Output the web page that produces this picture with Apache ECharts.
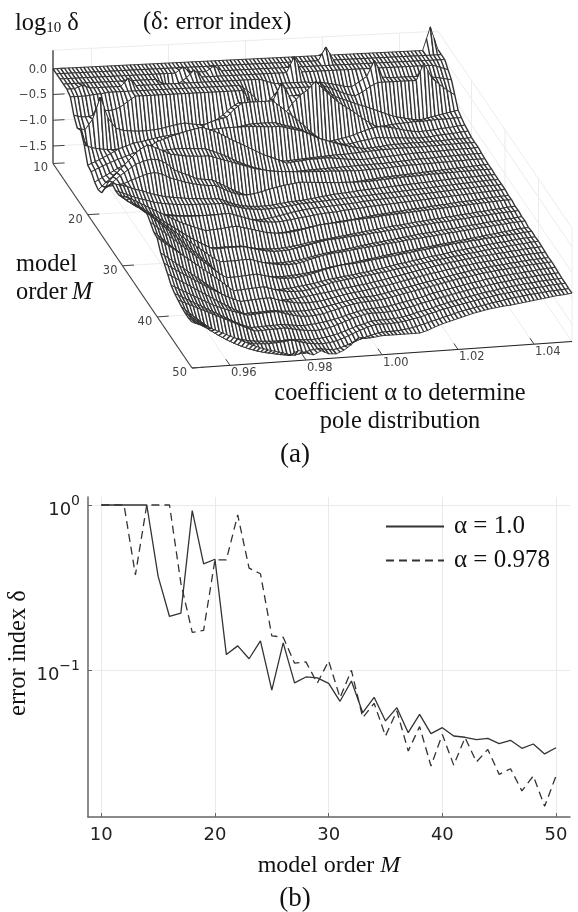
<!DOCTYPE html>
<html><head><meta charset="utf-8">
<script src="https://cdn.jsdelivr.net/npm/echarts@6/dist/echarts.min.js"></script>
<style>html,body{margin:0;padding:0;background:#fff}#c{width:578px;height:912px}</style></head>
<body><div id="c"></div>
<script>
// ---- panel (b): error index by model order
const orders=[10,11,12,13,14,15,16,17,18,19,20,21,22,23,24,25,26,27,28,29,30,31,32,33,34,35,36,37,38,39,40,41,42,43,44,45,46,47,48,49,50];
const deltaAlpha1=[1,1,1,1,1,0.369,0.211,0.221,0.924,0.44,0.469,0.124,0.14,0.117,0.15,0.0754,0.146,0.0836,0.0907,0.0895,0.083,0.0646,0.0858,0.0551,0.0683,0.0491,0.0591,0.0417,0.0538,0.0411,0.0447,0.0398,0.0391,0.0378,0.0385,0.0358,0.0375,0.0335,0.0356,0.031,0.0338];
const deltaAlpha978=[1,1,1,0.377,1,1,1,0.336,0.169,0.174,0.465,0.465,0.87,0.414,0.383,0.161,0.158,0.11,0.112,0.0832,0.1135,0.068,0.0995,0.0514,0.0628,0.0398,0.0565,0.0323,0.0454,0.0262,0.0407,0.0265,0.0389,0.0277,0.033,0.0233,0.0252,0.0185,0.0228,0.0149,0.0228];
const orderTicksB=[10,20,30,40,50];
const deltaTicks=[0.1,1];
// ---- panel (a): log10 delta x100, one list per model order, alpha columns 0.95..1.05 step 0.002
const z10=[0,0,0,0,0,0,0,0,0,0, 0,0,0,0,0,0,0,0,0,0, 0,0,0,0,0,0,0,0,0,0, 0,0,0,0,0,0,0,0,0,0, 0,0,0,0,0,0,0,0,0,45, 0];
const z11=[0,0,0,0,0,0,0,0,0,0, 0,0,0,0,0,0,0,0,0,0, 0,0,0,0,0,0,0,0,0,0, 0,0,0,0,0,26,0,0,0,0, 0,0,0,0,0,0,0,0,0,0, 0];
const z12=[0,0,0,0,0,0,0,0,0,0, 0,0,0,0,0,0,11,0,0,0, 10,0,0,0,0,0,0,0,0,0, 0,0,0,0,0,0,0,0,0,0, 0,0,0,0,0,0,0,0,0,0, 0];
const z13=[0,0,0,0,0,0,0,0,0,0, 0,0,0,-10,-42,-10,0,14,0,0, 0,0,0,0,0,0,0,0,0,0, 30,0,0,0,0,0,0,0,0,0, 0,0,0,0,0,0,0,0,0,-5, -10];
const z14=[0,0,6,0,0,0,0,0,15,0, 0,0,0,0,0,0,0,0,0,0, 0,0,0,0,0,0,-5,-10,-10,-10, -10,-10,-12,-12,-15,-18,-22,-24,-15,-5, 25,-8,-10,-10,-10,-10,-10,-12,-14,-17, -20];
const z15=[-5,-5,-5,-3,-2,0,0,0,0,0, 0,0,0,0,0,0,0,0,0,0, 0,0,0,-10,-25,-43,-30,-15,-10,-10, -10,-10,-10,-10,-15,-22,-28,-32,-25,-15, -8,-8,-8,-8,-8,-8,25,-5,-18,-30, -40];
const z16=[-31,-35,-35,-30,-25,-25,-20,-10,0,0, 0,0,0,0,0,0,0,0,0,0, 0,0,0,-25,-45,-68,-20,10,-15,-15, -15,-15,9,-10,-21,-27,-33,-39,-44,-50, -56,-62,-67,-70,-73,-75,-72,-69,-66,-63, -60];
const z17=[-46,-50,-30,12,-30,-50,-55,-57,-58,-58, -57,-55,-52,-49,-47,-50,-52,-53,-45,-35, -22,-13,-25,-40,-55,-66,-55,-40,-20,-5, 5,20,5,-10,-23,-33,-43,-55,-65,-74, -73,-71,-70,-69,-68,-68,-67,-66,-66,-65, -65];
const z18=[-40,-85,-85,-85,-84,-84,-83,-83,-82,-81, -80,-79,-78,-78,-77,-60,-43,-37,-33,-30, -15,-4,-3,-3,-3,-3,-15,-28,-40,-53, -68,-80,-88,-86,-83,-80,-75,-70,-66,-64, -66,-69,-73,-76,-78,-77,-76,-74,-73,-71, -70];
const z19=[-59,-65,-68,-70,-71,-72,-73,-73,-74,-74, -75,-75,-76,-76,-76,-70,-65,-58,-52,-46, -40,-37,-35,-35,-35,-36,-41,-45,-50,-58, -66,-75,-79,-82,-85,-83,-80,-78,-75,-76, -77,-78,-79,-80,-80,-79,-77,-76,-75,-73, -72];
const z20=[-88,-82,-75,-68,-60,-55,-50,-48,-45,-42, -40,-38,-36,-34,-33,-32,-32,-31,-30,-30, -30,-30,-31,-32,-33,-33,-37,-41,-45,-52, -60,-65,-70,-75,-79,-82,-85,-84,-83,-81, -80,-80,-79,-79,-79,-78,-78,-77,-76,-76, -75];
const z21=[-91,-84,-78,-72,-67,-62,-57,-53,-50,-47, -44,-41,-38,-35,-33,-36,-40,-46,-52,-58, -65,-70,-75,-80,-86,-91,-90,-89,-88,-87, -86,-85,-84,-84,-83,-82,-81,-80,-79,-79, -78,-78,-78,-78,-77,-77,-76,-76,-75,-75, -75];
const z22=[-101,-93,-85,-77,-70,-60,-50,-40,-30,-25, -20,-16,-12,-9,-6,-12,-18,-26,-35,-42, -50,-58,-66,-72,-78,-85,-83,-82,-80,-80, -79,-80,-82,-84,-85,-86,-85,-84,-83,-82, -81,-80,-79,-79,-78,-78,-77,-77,-76,-76, -75];
const z23=[-106,-93,-80,-70,-60,-52,-45,-41,-38,-36, -35,-35,-36,-37,-38,-44,-50,-57,-65,-72, -78,-83,-88,-90,-92,-93,-92,-91,-90,-90, -89,-89,-88,-88,-87,-87,-86,-86,-85,-84, -83,-82,-81,-81,-80,-79,-79,-78,-78,-77, -77];
const z24=[-102,-80,-65,-50,-35,-22,-14,-20,-27,-35, -37,-40,-41,-42,-42,-47,-52,-57,-62,-67, -72,-75,-78,-80,-81,-82,-83,-84,-84,-85, -85,-86,-86,-87,-87,-86,-86,-85,-84,-83, -82,-82,-81,-81,-80,-80,-79,-79,-78,-78, -78];
const z25=[-83,-72,-60,-50,-40,-35,-32,-34,-42,-55, -62,-68,-75,-77,-79,-87,-95,-103,-110,-116, -117,-118,-118,-116,-114,-112,-110,-108,-106,-105, -104,-102,-100,-98,-96,-95,-93,-92,-91,-90, -89,-88,-87,-86,-85,-84,-83,-82,-81,-80, -79];
const z26=[-69,-68,-66,-60,-55,-50,-48,-52,-60,-65, -70,-74,-77,-79,-80,-88,-95,-100,-102,-100, -97,-93,-90,-87,-85,-83,-84,-85,-86,-87, -88,-88,-89,-89,-89,-88,-87,-86,-85,-84, -84,-83,-82,-82,-81,-81,-80,-80,-79,-79, -79];
const z27=[-54,-58,-62,-68,-72,-78,-82,-86,-88,-90, -92,-93,-94,-95,-96,-102,-108,-112,-114,-115, -115,-114,-112,-110,-109,-108,-106,-104,-102,-100, -99,-98,-96,-95,-94,-93,-92,-91,-90,-89, -88,-87,-86,-85,-84,-83,-82,-82,-81,-80, -80];
const z28=[-58,-64,-70,-76,-80,-85,-88,-90,-92,-93, -94,-94,-95,-95,-95,-100,-104,-108,-110,-111, -111,-110,-109,-107,-105,-104,-103,-102,-101,-100, -99,-98,-97,-96,-95,-94,-93,-92,-91,-90, -89,-88,-87,-86,-85,-84,-83,-82,-81,-80, -80];
const z29=[-57,-68,-78,-86,-92,-96,-100,-102,-104,-105, -106,-107,-107,-108,-108,-112,-116,-119,-121,-120, -118,-115,-112,-109,-107,-105,-104,-103,-102,-101, -100,-99,-97,-96,-95,-94,-93,-92,-91,-90, -89,-88,-87,-86,-85,-84,-83,-82,-81,-81, -80];
const z30=[-50,-62,-72,-80,-86,-90,-92,-94,-95,-96, -96,-96,-96,-95,-95,-100,-105,-110,-114,-116, -117,-116,-114,-112,-110,-108,-106,-105,-104,-102, -101,-100,-98,-97,-96,-95,-94,-93,-92,-91, -90,-89,-88,-87,-86,-85,-84,-83,-82,-81, -80];
const z31=[-40,-49,-58,-67,-76,-85,-93,-100,-106,-111, -117,-117,-118,-118,-117,-121,-125,-128,-129,-130, -129,-127,-125,-123,-121,-119,-117,-115,-113,-112, -110,-108,-106,-104,-103,-101,-100,-98,-97,-96, -94,-93,-92,-90,-89,-88,-87,-85,-84,-83, -82];
const z32=[-33,-41,-49,-57,-65,-73,-81,-88,-94,-100, -105,-104,-103,-101,-100,-104,-108,-112,-116,-118, -119,-118,-116,-113,-110,-107,-106,-105,-104,-102, -101,-100,-99,-97,-96,-95,-94,-93,-92,-91, -90,-89,-88,-87,-86,-85,-84,-83,-82,-81, -81];
const z33=[-33,-43,-52,-62,-72,-82,-92,-102,-112,-120, -128,-129,-129,-129,-129,-132,-135,-137,-138,-138, -137,-135,-133,-130,-128,-126,-124,-122,-120,-118, -116,-114,-112,-110,-108,-107,-105,-103,-102,-100, -99,-97,-96,-94,-93,-91,-90,-88,-87,-85, -84];
const z34=[-27,-36,-46,-56,-66,-76,-86,-96,-105,-113, -121,-121,-120,-120,-120,-124,-128,-131,-133,-133, -132,-129,-126,-123,-120,-117,-116,-115,-113,-112, -111,-109,-108,-106,-105,-103,-102,-100,-99,-97, -96,-95,-93,-92,-90,-89,-88,-86,-85,-84, -83];
const z35=[-23,-35,-47,-59,-71,-83,-95,-107,-118,-130, -140,-140,-140,-140,-140,-142,-144,-145,-146,-145, -144,-142,-139,-136,-133,-131,-129,-127,-125,-122, -120,-118,-116,-114,-112,-110,-108,-106,-105,-103, -101,-100,-98,-96,-95,-93,-91,-90,-88,-87, -85];
const z36=[-17,-28,-39,-50,-61,-72,-83,-94,-105,-116, -126,-126,-126,-125,-125,-130,-134,-137,-139,-140, -139,-136,-132,-128,-125,-123,-122,-120,-118,-116, -115,-113,-111,-110,-108,-106,-105,-103,-102,-100, -98,-97,-95,-94,-92,-91,-89,-88,-86,-85, -84];
const z37=[-12,-25,-38,-51,-64,-77,-90,-103,-116,-133, -149,-150,-150,-150,-149,-150,-151,-152,-152,-151, -150,-148,-146,-143,-140,-138,-136,-134,-131,-129, -127,-124,-122,-120,-118,-116,-114,-112,-110,-108, -106,-104,-102,-100,-98,-96,-94,-92,-90,-88, -87];
const z38=[-20,-32,-44,-56,-68,-80,-92,-104,-116,-128, -137,-137,-136,-135,-134,-138,-142,-145,-146,-146, -144,-141,-137,-133,-130,-127,-126,-125,-123,-121, -119,-117,-115,-113,-111,-109,-107,-105,-103,-101, -99,-98,-96,-95,-93,-92,-90,-89,-88,-86, -85];
const z39=[-29,-42,-55,-68,-81,-94,-107,-120,-133,-146, -158,-158,-158,-158,-158,-158,-157,-156,-155,-153, -151,-149,-146,-143,-141,-139,-137,-135,-133,-130, -128,-125,-122,-120,-117,-115,-112,-110,-108,-105, -103,-101,-99,-97,-95,-93,-92,-90,-88,-87, -86];
const z40=[-31,-42,-53,-64,-75,-86,-97,-108,-119,-131, -143,-142,-141,-140,-139,-144,-148,-151,-152,-152, -150,-147,-143,-139,-137,-135,-133,-131,-129,-127, -125,-122,-120,-118,-115,-113,-110,-108,-106,-104, -102,-100,-98,-96,-94,-93,-91,-89,-88,-86, -85];
const z41=[-50,-61,-72,-83,-94,-105,-116,-127,-138,-149, -159,-159,-158,-158,-158,-158,-157,-156,-155,-153, -151,-149,-147,-145,-142,-140,-138,-136,-133,-131, -128,-125,-122,-119,-116,-113,-110,-108,-105,-103, -101,-99,-97,-96,-94,-93,-91,-90,-88,-87, -86];
const z42=[-60,-70,-79,-88,-97,-106,-115,-123,-131,-138, -144,-143,-142,-141,-141,-146,-150,-153,-155,-155, -154,-152,-149,-146,-143,-141,-139,-137,-134,-132, -129,-126,-123,-120,-117,-114,-112,-109,-107,-104, -102,-100,-98,-97,-95,-93,-92,-90,-89,-88, -87];
const z43=[-71,-80,-89,-98,-107,-116,-125,-134,-142,-150, -158,-157,-157,-156,-156,-158,-159,-160,-160,-159, -157,-154,-151,-148,-145,-142,-141,-140,-138,-135, -132,-129,-126,-123,-120,-117,-114,-111,-108,-106, -103,-101,-99,-97,-96,-94,-93,-91,-90,-89, -88];
const z44=[-83,-91,-99,-107,-115,-123,-130,-136,-141,-146, -151,-150,-149,-148,-148,-153,-157,-160,-161,-160, -158,-154,-150,-146,-143,-141,-140,-139,-137,-134, -131,-128,-125,-122,-119,-116,-113,-110,-107,-105, -102,-100,-98,-96,-95,-93,-92,-90,-89,-88, -87];
const z45=[-89,-97,-105,-113,-121,-129,-137,-145,-153,-160, -165,-165,-164,-164,-163,-165,-167,-168,-167,-165, -163,-160,-156,-152,-148,-145,-144,-143,-142,-139, -136,-133,-130,-126,-122,-119,-116,-113,-110,-107, -105,-102,-100,-98,-96,-95,-93,-92,-90,-89, -88];
const z46=[-92,-99,-106,-113,-120,-127,-134,-141,-148,-155, -162,-162,-161,-161,-160,-163,-166,-168,-169,-168, -165,-160,-155,-150,-146,-143,-143,-143,-142,-140, -137,-134,-130,-127,-123,-120,-117,-114,-111,-108, -106,-103,-101,-99,-97,-95,-94,-92,-91,-90, -89];
const z47=[-95,-108,-120,-132,-142,-151,-158,-163,-167,-170, -172,-173,-174,-174,-173,-174,-175,-176,-175,-173, -170,-166,-161,-156,-152,-148,-147,-147,-146,-144, -141,-137,-134,-130,-126,-122,-119,-116,-113,-110, -107,-105,-102,-100,-98,-96,-95,-93,-92,-91, -90];
const z48=[-97,-108,-118,-129,-139,-147,-154,-159,-163,-166, -167,-168,-167,-166,-164,-168,-172,-174,-175,-174, -171,-166,-160,-154,-149,-145,-145,-145,-144,-142, -139,-136,-132,-128,-124,-121,-118,-115,-112,-109, -107,-104,-102,-100,-98,-97,-95,-94,-92,-91, -90];
const z49=[-97,-106,-115,-125,-135,-144,-152,-159,-165,-170, -174,-177,-180,-182,-183,-180,-176,-174,-176,-178, -175,-170,-164,-159,-155,-151,-150,-150,-149,-147, -144,-140,-136,-132,-128,-124,-120,-117,-114,-111, -108,-106,-103,-101,-99,-97,-96,-94,-93,-92, -91];
const z50=[-95,-101,-107,-113,-120,-127,-134,-141,-148,-154, -159,-163,-167,-172,-164,-170,-175,-168,-175,-176, -170,-160,-147,-150,-149,-147,-147,-147,-147,-147, -147,-143,-137,-132,-128,-124,-120,-116,-113,-110, -108,-106,-105,-103,-101,-99,-97,-95,-93,-92, -90];
const surfaceRows=[z10,z11,z12,z13,z14,z15,z16,z17,z18,z19,z20,z21,z22,z23,z24,z25,z26,z27,z28,z29,z30,z31,z32,z33,z34,z35,z36,z37,z38,z39,z40,z41,z42,z43,z44,z45,z46,z47,z48,z49,z50];
const alphaTicks=[0.96,0.98,1.00,1.02,1.04];
const orderTicksA=[10,20,30,40,50];
const logTicks=[0,-0.5,-1,-1.5];

// Projection of the 3-D box on the page (in axis units of the hidden page grid)
const Z_FLOOR=-1.84, Z_TOP=0.36;
function project(alpha,M,z){
  const u=(alpha-0.95)/0.1, m=(M-10)/40;
  return [53+139*m+u*(385-5*m), 163.5+204.5*m-u*(19+7.5*m)-51.5*(z-Z_FLOOR)];
}
const colAlpha=c=>0.95+0.002*c;
const zAt=(c,r)=>surfaceRows[r][c]/100;

// surface cells, back row first so nearer rows hide them
const cells=[];
for(let r=0;r<surfaceRows.length-1;r++) for(let c=0;c<50;c++) cells.push([c,r]);

function renderCell(params,api){
  const c=api.value(0), r=api.value(1), M0=orders[r], M1=orders[r+1];
  const P=(cc,rr,MM)=>api.coord(project(colAlpha(cc),MM,zAt(cc,rr)));
  const a=P(c,r,M0), b=P(c+1,r,M0), d=P(c+1,r+1,M1), e=P(c,r+1,M1);
  const mid=(p,q)=>[(p[0]+q[0])/2,(p[1]+q[1])/2];
  const t=mid(a,b), w=mid(e,d);
  const hatch=(p,q)=>({type:'line',shape:{x1:p[0],y1:p[1],x2:q[0],y2:q[1]},style:{stroke:'#333',lineWidth:1.4}});
  const row=(p,q)=>({type:'line',shape:{x1:p[0],y1:p[1],x2:q[0],y2:q[1]},style:{stroke:'#2a2a2a',lineWidth:0.9}});
  return {type:'group',children:[
    {type:'polygon',shape:{points:[a,b,d,e]},style:{fill:'#fff'}},
    hatch(a,e),hatch(t,w),hatch(b,d),row(a,b),row(e,d)
  ]};
}

// box: faint grid and axes
const gridC='#ececec', axisC='#444';
const seg=(p,q,color,w)=>({p,q,color,w});
const segs=[];
alphaTicks.forEach(a=>{
  segs.push(seg([a,10,Z_FLOOR],[a,50,Z_FLOOR],gridC,1));
  segs.push(seg([a,10,Z_FLOOR],[a,10,Z_TOP],gridC,1));
});
orderTicksA.forEach(M=>{
  if(M>10){segs.push(seg([0.95,M,Z_FLOOR],[1.05,M,Z_FLOOR],gridC,1));
  segs.push(seg([1.05,M,Z_FLOOR],[1.05,M,Z_TOP],gridC,1));}
});
segs.push(seg([1.05,10,Z_TOP],[1.05,50,Z_TOP],gridC,1));
segs.push(seg([0.95,10,Z_TOP],[1.05,10,Z_TOP],gridC,1));
segs.push(seg([1.05,10,Z_FLOOR],[1.05,50,Z_FLOOR],gridC,1));
logTicks.forEach(z=>{
  segs.push(seg([0.95,10,z],[1.05,10,z],gridC,1));
  segs.push(seg([1.05,10,z],[1.05,50,z],gridC,1));
});
const axisSegs=[
  seg([0.95,10,Z_FLOOR],[0.95,10,Z_TOP],'#222',1.2),
  seg([0.95,10,Z_FLOOR],[0.95,50,Z_FLOOR],axisC,1.2),
  seg([0.95,50,Z_FLOOR],[1.05,50,Z_FLOOR],'#222',1.2)
];
alphaTicks.forEach(a=>axisSegs.push(seg([a,50,Z_FLOOR],[a,48.8,Z_FLOOR],axisC,1)));
orderTicksA.forEach(M=>axisSegs.push(seg([0.95,M,Z_FLOOR],[0.953,M,Z_FLOOR],axisC,1)));
logTicks.forEach(z=>axisSegs.push(seg([0.95,10,z],[0.953,10,z],axisC,1)));
function renderSeg(list){return (params,api)=>{
  const s=list[api.value(0)], p=api.coord(project(...s.p)), q=api.coord(project(...s.q));
  return {type:'line',shape:{x1:p[0],y1:p[1],x2:q[0],y2:q[1]},style:{stroke:s.color,lineWidth:s.w}};
};}
const tickFont='"DejaVu Sans"', tickCol='#444';
const tickLabels=[];
alphaTicks.forEach(a=>tickLabels.push({at:[a,50,Z_FLOOR],dx:1,dy:8,text:a.toFixed(2),align:'left'}));
orderTicksA.forEach(M=>tickLabels.push({at:[0.95,M,Z_FLOOR],dx:-5,dy:5,text:String(M),align:'right'}));
logTicks.forEach(z=>tickLabels.push({at:[0.95,10,z],dx:-6,dy:1,text:z.toFixed(1).replace('-','\u2212'),align:'right'}));
function renderTick(params,api){
  const t=tickLabels[api.value(0)], p=api.coord(project(...t.at));
  return {type:'text',x:p[0]+t.dx,y:p[1]+t.dy,style:{text:t.text,fill:tickCol,font:'11.5px '+tickFont,align:t.align,verticalAlign:'middle'}};
}
const idx=a=>a.map((_,i)=>[i]);
const serif='"Liberation Serif"';
const T=(x,y,text,extra)=>({type:'text',x,y,silent:true,style:Object.assign({text,fill:'#111',font:'24.4px '+serif,verticalAlign:'middle'},extra||{})});

const chart=echarts.init(document.getElementById('c'),null,{renderer:'canvas'});
chart.setOption({
  animation:false,backgroundColor:'#fff',
  grid:[{left:0,top:0,width:578,height:912,show:false,outerBoundsMode:'none'},{left:88,top:497,width:482,height:320,outerBoundsMode:'none'}],
  xAxis:[
    {gridIndex:0,type:'value',min:0,max:578,show:false},
    {gridIndex:1,type:'value',min:8.83,max:51.23,
     name:'model order {i|M}',nameLocation:'middle',nameGap:37,
     nameTextStyle:{fontFamily:serif,fontSize:24,color:'#111',rich:{i:{fontFamily:serif,fontStyle:'italic',fontSize:24,color:'#111'}}},
     axisLine:{onZero:false,lineStyle:{color:'#666',width:1.5}},
     axisTick:{inside:true,length:4,lineStyle:{color:'#666'},customValues:orderTicksB},
     axisLabel:{customValues:orderTicksB,fontFamily:'"DejaVu Sans"',fontSize:18,color:'#222',margin:9,showMinLabel:true,showMaxLabel:true},
     splitLine:{show:true,lineStyle:{color:'#eaeaea',width:1}}}
  ],
  yAxis:[
    {gridIndex:0,type:'value',min:0,max:912,inverse:true,show:false},
    {gridIndex:1,type:'log',logBase:10,min:0.01285,max:1.118,
     name:'error index \u03b4',nameLocation:'middle',nameGap:57,nameRotate:90,nameMoveOverlap:false,
     nameTextStyle:{fontFamily:serif,fontSize:24.5,color:'#111',padding:[0,0,0,8]},
     axisLine:{onZero:false,lineStyle:{color:'#666',width:1.5}},
     axisTick:{inside:true,length:4,lineStyle:{color:'#666'},customValues:deltaTicks},
     axisLabel:{customValues:deltaTicks,margin:8,
       formatter:v=>'{b|10}{s|'+String(Math.round(Math.log10(v))).replace('-','\u2212')+'}',
       rich:{b:{fontFamily:'"DejaVu Sans"',fontSize:18,color:'#222',padding:[10,0,0,0]},s:{fontFamily:'"DejaVu Sans"',fontSize:14,color:'#222',padding:[0,0,8,0]}}},
     splitLine:{show:true,lineStyle:{color:'#eaeaea',width:1}}}
  ],
  legend:{left:385,top:514,padding:0,orient:'vertical',itemWidth:58,itemHeight:26,itemGap:9,
    itemStyle:{opacity:0},
    textStyle:{fontFamily:serif,fontSize:25,color:'#111',padding:[0,0,0,5]},
    data:['\u03b1 = 1.0','\u03b1 = 0.978']},
  series:[
    {type:'custom',xAxisIndex:0,yAxisIndex:0,silent:true,clip:false,progressive:0,data:idx(segs),renderItem:renderSeg(segs),z:1},
    {type:'custom',xAxisIndex:0,yAxisIndex:0,silent:true,clip:false,progressive:0,data:cells,renderItem:renderCell,z:2},
    {type:'custom',xAxisIndex:0,yAxisIndex:0,silent:true,clip:false,progressive:0,data:idx(axisSegs),renderItem:renderSeg(axisSegs),z:3},
    {type:'custom',xAxisIndex:0,yAxisIndex:0,silent:true,clip:false,progressive:0,data:idx(tickLabels),renderItem:renderTick,z:3},
    {name:'\u03b1 = 1.0',type:'line',xAxisIndex:1,yAxisIndex:1,showSymbol:false,symbol:'none',
     data:orders.map((m,i)=>[m,deltaAlpha1[i]]),lineStyle:{color:'#333',width:1.3},z:4},
    {name:'\u03b1 = 0.978',type:'line',xAxisIndex:1,yAxisIndex:1,showSymbol:false,symbol:'none',
     data:orders.map((m,i)=>[m,deltaAlpha978[i]]),lineStyle:{color:'#333',width:1.3,type:[8,5]},z:4}
  ],
  graphic:[
    {type:'text',x:15,y:24,silent:true,style:{text:'log{s|10} \u03b4',fill:'#111',font:'24.4px '+serif,verticalAlign:'middle',rich:{s:{font:'15px '+serif,fill:'#111',padding:[8,0,0,0]}}}},
    T(143,23,'(\u03b4: error index)'),
    T(16,265,'model'),
    T(16,293,'order '),
    T(72,293,'M',{font:'italic 24.4px '+serif}),
    T(400,394,'coefficient \u03b1 to determine',{align:'center'}),
    T(400,422,'pole distribution',{align:'center'}),
    T(295,455,'(a)',{align:'center',font:'27px '+serif}),
    T(295,899,'(b)',{align:'center',font:'27px '+serif})
  ]
});
</script></body></html>
